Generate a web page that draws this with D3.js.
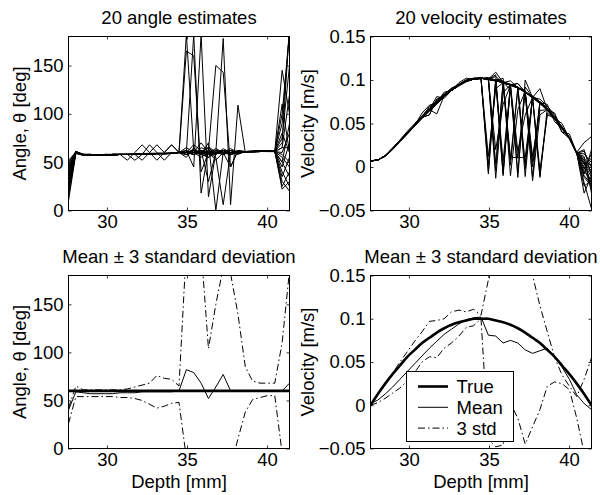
<!DOCTYPE html>
<html>
<head>
<meta charset="utf-8">
<script src="https://cdn.jsdelivr.net/npm/d3@7"></script>
<style>
body { margin: 0; background: #fff; }
svg text { font-family: "Liberation Sans", Arial, Helvetica, sans-serif; font-size: 18.5px; fill: #000; }
</style>
</head>
<body>
<div id="chart"></div>
<script>
// depth samples [mm]
var depth = [27.60, 28.06, 28.52, 28.98, 29.44, 29.90, 30.36, 30.82, 31.28, 31.74, 32.20,
             32.66, 33.12, 33.58, 34.04, 34.50, 34.96, 35.42, 35.88, 36.34, 36.80, 37.26,
             37.72, 38.18, 38.64, 39.10, 39.56, 40.02, 40.48, 40.94, 41.40];

// 20 angle estimates [deg]
var angleEst = [
  [30,61, 58,57,57,58,57,58,58, 58,59,58,59,59,59,60, 182,62,58,55,60,62,60,59, 61,61,62,61,61, 145,100],
  [45,60, 58,58,57,57,58,58,58, 58,58,59,59,59,60,60, 165,160,40,60,58,62,60,61, 61,61,61,62,61, 110,60],
  [20,59, 57,57,57,58,58,58,58, 58,58,58,59,58,59,60, 60,182,18,62,60,58,62,60, 61,61,62,62,61, 90,185],
  [50,61, 58,57,57,57,57,58,58, 58,59,59,59,59,59,60, 62,45,182,14,60,62,58,60, 61,60,61,61,61, 75,150],
  [35,60, 58,58,57,57,58,58,58, 58,58,58,59,59,59,60, 58,62,60,55,60,178,6,109, 60,61,61,62,61, 65,120],
  [42,60, 57,57,57,57,58,58,58, 59,58,58,59,59,59,60, 60,58,65,62,150,143,45,62, 61,61,61,62,61, 55,45],
  [15,60, 58,57,57,58,57,58,58, 58,58,59,59,59,59,60, 55,65,58,70,0,60,58,60, 61,61,61,62,61, 45,70],
  [28,60, 58,57,57,57,58,58,52, 60,68,60,52,60,68,60, 62,58,60,65,58,62,60,59, 61,62,61,62,61, 35,55],
  [48,61, 58,58,57,57,58,58,58, 52,58,68,60,52,60,60, 60,68,62,55,62,60,64,60, 61,61,62,61,61, 25,40],
  [38,60, 58,57,57,58,58,58,58, 58,52,60,68,60,68,60, 58,60,70,60,52,60,62,60, 61,61,61,62,62, 22,30],
  [52,60, 58,57,57,57,58,58,58, 58,58,59,59,59,59,60, 60,62,58,60,60,62,60,60, 61,61,61,62,61, 70,190],
  [25,61, 58,58,57,57,57,58,58, 58,59,58,59,59,59,60, 60,58,62,60,64,60,58,61, 61,61,62,62,61, 60,80],
  [40,60, 58,57,57,57,58,58,58, 58,58,58,59,59,59,60, 62,60,55,60,62,60,45,62, 60,61,61,62,61, 50,35],
  [10,59, 58,57,57,57,58,58,58, 58,58,59,59,59,59,60, 60,60,62,58,60,60,62,60, 61,61,61,62,61, 40,25],
  [33,60, 58,57,57,58,58,58,58, 58,58,59,59,59,59,60, 58,62,60,60,55,6,60,58, 61,61,61,62,61, 80,60],
  [46,60, 58,58,57,57,58,58,58, 58,58,58,59,59,59,60, 65,60,58,62,60,58,60,62, 61,61,62,61,61, 65,65],
  [22,60, 58,57,57,57,58,58,58, 58,59,59,58,59,59,60, 60,62,58,66,60,60,58,60, 61,61,62,62,61, 58,50],
  [36,60, 58,57,57,58,57,58,58, 58,58,58,59,59,59,60, 60,58,62,30,60,62,60,60, 61,61,61,62,61, 30,20],
  [44,61, 58,57,57,57,58,58,58, 58,58,59,59,59,59,60, 60,62,60,58,62,60,60,60, 61,61,62,62,61, 100,185],
  [18,60, 58,58,57,57,58,58,58, 58,58,58,59,59,59,60, 58,60,62,60,58,64,60,60, 61,61,61,62,61, 50,90]
];

// 20 velocity estimates [m/s]
var velEst = [
  [0.007,0.008,0.013,0.022,0.031,0.040,0.048,0.058,0.066,0.075,0.083,0.089,0.095,0.100,0.102,0.103, -0.008,0.100,0.098,0.095,0.092,0.004,0.081,0.075, 0.067,0.057,0.046,0.034,0.016, 0.005,-0.020],
  [0.007,0.008,0.012,0.020,0.029,0.038,0.047,0.056,0.064,0.072,0.081,0.088,0.094,0.098,0.101,0.101, 0.002,0.101,0.099,-0.010,0.066,0.087,0.081,0.073, 0.065,0.055,0.044,0.032,0.016, 0.010,0.000],
  [0.007,0.008,0.013,0.021,0.030,0.039,0.049,0.058,0.067,0.076,0.083,0.090,0.095,0.100,0.102,0.102, 0.102,-0.013,0.085,0.095,0.091,0.088,0.006,0.075, 0.068,0.057,0.046,0.034,0.015, -0.005,-0.015],
  [0.007,0.008,0.013,0.021,0.030,0.040,0.048,0.057,0.060,0.078,0.082,0.089,0.094,0.099,0.101,0.102, 0.100,0.099,-0.008,0.095,0.092,0.086,0.079,-0.012, 0.068,0.058,0.046,0.034,0.017, 0.028,0.035],
  [0.007,0.008,0.013,0.021,0.030,0.039,0.048,0.057,0.066,0.074,0.082,0.088,0.094,0.099,0.101,0.102, 0.101,0.020,0.072,0.094,0.096,0.086,0.080,0.074, 0.066,0.056,0.045,0.033,0.016, -0.030,-0.010],
  [0.007,0.008,0.013,0.020,0.029,0.038,0.047,0.056,0.065,0.073,0.081,0.088,0.093,0.098,0.101,0.102, 0.103,0.100,0.097,0.011,0.011,0.011,0.079,0.073, 0.066,0.055,0.044,0.033,0.015, 0.000,-0.025],
  [0.007,0.008,0.013,0.022,0.031,0.041,0.050,0.059,0.068,0.076,0.084,0.090,0.095,0.100,0.102,0.102, -0.005,0.099,0.098,0.095,0.092,-0.002,0.082,0.075, 0.067,0.056,0.045,0.033,0.016, 0.015,0.005],
  [0.007,0.008,0.013,0.021,0.030,0.039,0.048,0.057,0.066,0.061,0.082,0.088,0.094,0.099,0.101,0.102, 0.101,0.106,-0.010,0.094,0.091,0.086,0.080,0.074, 0.066,0.056,0.045,0.033,0.016, -0.010,-0.020],
  [0.007,0.008,0.013,0.021,0.030,0.039,0.048,0.057,0.070,0.074,0.086,0.088,0.094,0.099,0.101,0.102, 0.101,0.004,0.097,0.094,0.091,0.086,0.012,0.065, 0.066,0.056,0.045,0.033,0.016, 0.008,-0.005],
  [0.007,0.008,0.013,0.021,0.030,0.039,0.048,0.057,0.066,0.074,0.082,0.088,0.094,0.099,0.101,0.102, 0.101,0.109,0.097,0.094,-0.012,0.100,0.080,0.074, 0.066,0.056,0.045,0.033,0.016, -0.018,-0.048],
  [0.007,0.008,0.013,0.021,0.030,0.039,0.048,0.062,0.071,0.074,0.082,0.088,0.094,0.099,0.101,0.102, 0.101,0.099,0.097,0.008,0.091,0.086,0.080,-0.010, 0.062,0.056,0.045,0.033,0.016, 0.020,-0.010],
  [0.007,0.008,0.013,0.021,0.030,0.039,0.048,0.057,0.066,0.081,0.079,0.088,0.094,0.099,0.101,0.102, 0.012,0.090,0.097,0.094,0.091,0.086,0.000,0.074, 0.066,0.056,0.045,0.033,0.016, 0.003,0.010],
  [0.007,0.008,0.013,0.021,0.030,0.039,0.048,0.057,0.060,0.078,0.082,0.088,0.094,0.099,0.101,0.102, 0.101,0.104,0.097,0.094,0.018,0.060,0.080,0.090, 0.066,0.056,0.045,0.033,0.016, -0.008,0.020],
  [0.007,0.008,0.013,0.021,0.030,0.039,0.048,0.057,0.066,0.074,0.082,0.088,0.094,0.099,0.101,0.102, 0.101,-0.004,0.097,0.099,0.091,0.086,0.080,0.074, 0.072,0.052,0.045,0.033,0.016, 0.012,-0.030],
  [0.007,0.008,0.013,0.021,0.030,0.039,0.048,0.057,0.066,0.074,0.082,0.088,0.094,0.099,0.101,0.102, 0.101,0.099,-0.005,0.094,0.091,0.086,-0.012,0.074, 0.066,0.062,0.040,0.033,0.016, -0.022,-0.015],
  [0.007,0.008,0.013,0.021,0.030,0.039,0.048,0.057,0.066,0.074,0.082,0.088,0.094,0.099,0.101,0.102, 0.101,0.099,0.102,0.002,0.091,0.086,0.080,-0.004, 0.060,0.056,0.050,0.033,0.016, 0.006,-0.008],
  [0.007,0.008,0.013,0.021,0.030,0.039,0.048,0.057,0.066,0.074,0.082,0.088,0.094,0.099,0.101,0.102, 0.101,0.099,0.097,0.094,0.091,-0.011,0.080,0.078, 0.070,0.060,0.045,0.033,0.016, -0.002,0.015],
  [0.007,0.008,0.013,0.021,0.030,0.039,0.048,0.057,0.066,0.074,0.082,0.088,0.094,0.099,0.101,0.102, 0.101,0.099,0.007,0.094,0.096,0.086,0.080,0.074, 0.066,0.056,0.040,0.038,0.016, 0.018,0.000],
  [0.007,0.008,0.013,0.021,0.030,0.039,0.048,0.057,0.066,0.074,0.082,0.088,0.097,0.102,0.101,0.102, 0.101,0.099,0.097,0.094,-0.007,0.092,0.080,0.074, 0.066,0.056,0.045,0.033,0.016, -0.012,-0.022],
  [0.007,0.008,0.013,0.021,0.030,0.039,0.048,0.057,0.066,0.074,0.082,0.091,0.094,0.099,0.101,0.102, 0.101,0.099,0.097,0.089,0.010,0.086,-0.016,0.060, 0.066,0.056,0.045,0.033,0.016, 0.004,-0.012]
];

// mean +/- 3 std, angle [deg]
var angleTrue  = [60,60,60,60,60,60,60,60,60,60,60,60,60,60,60,60,60,60,60,60,60,60,60,60,60,60,60,60,60,60,60];
var angleMean  = [40,59,58,57,57,57,57,58,58,58,59,59,59,59,59,60,82,79,68,52,64,77,60,60,60,60,60,60,60,60,68];
var angleUpper = [42,65,61,61,61,61,61,61,62,64,66,68,76,73,72,65,209,260,208,104,150,188,182,140,85,70,68,68,68,110,185];
var angleLower = [26,54,54,54,54,54,54,53,53,52,50,46,42,44,47,48,-10,-60,-80,-70,-40,-30,-20,10,38,51,53,55,55,-5,-60];

// mean +/- 3 std, velocity [m/s]
var velTrue  = [0.000,0.013,0.025,0.036,0.046,0.056,0.064,0.072,0.078,0.084,0.089,0.093,0.096,0.098,0.100,0.100,
                0.100,0.098,0.096,0.093,0.089,0.084,0.078,0.072,0.064,0.056,0.046,0.036,0.025,0.013,0.000];
var velMean  = [0.002,0.006,0.013,0.021,0.030,0.039,0.048,0.057,0.066,0.074,0.082,0.088,0.094,0.099,0.101,0.102,
                0.081,0.080,0.072,0.075,0.072,0.064,0.060,0.063,0.066,0.056,0.044,0.030,0.012,0.002,-0.005];
var velUpper = [0.000,0.012,0.025,0.037,0.050,0.062,0.074,0.085,0.097,0.098,0.100,0.108,0.110,0.108,0.111,0.104,
                0.145,0.220,0.250,0.260,0.240,0.200,0.150,0.115,0.085,0.055,0.035,0.022,0.010,0.030,0.055];
var velLower = [0.000,0.003,0.008,0.014,0.020,0.028,0.038,0.050,0.056,0.055,0.066,0.072,0.080,0.090,0.092,0.100,
                -0.040,-0.048,-0.046,0.002,-0.015,-0.045,-0.025,-0.005,0.022,0.027,0.025,0.018,-0.015,-0.055,-0.090];

var xTicks = [30, 35, 40];
var angleTicks = [0, 50, 100, 150];
var angleTickLabels = ["0", "50", "100", "150"];
var velTicks = [-0.05, 0, 0.05, 0.1, 0.15];
var velTickLabels = ["\u22120.05", "0", "0.05", "0.1", "0.15"];
var legendLabels = ["True", "Mean", "3 std"];

var W = 600, H = 495;
var svg = d3.select("#chart").append("svg")
  .attr("width", W).attr("height", H);

var DASHDOT = "7,3,1.5,3";

function panel(id, box, yDomain, yTicks, yLabels, title, ylabel, ylabelX, xlabel) {
  var x = d3.scaleLinear().domain([27.6, 41.4]).range([box.l, box.r]);
  var y = d3.scaleLinear().domain(yDomain).range([box.b, box.t]);

  svg.append("clipPath").attr("id", id)
    .append("rect").attr("x", box.l).attr("y", box.t)
    .attr("width", box.r - box.l).attr("height", box.b - box.t);

  var plot = svg.append("g").attr("clip-path", "url(#" + id + ")");

  // axes, ticks pointing inwards on all four sides
  var ax = svg.append("g").attr("color", "#000");
  ax.append("g").attr("transform", "translate(0," + box.b + ")")
    .call(d3.axisBottom(x).tickValues(xTicks).tickSize(-3).tickPadding(4));
  ax.append("g").attr("transform", "translate(0," + box.t + ")")
    .call(d3.axisTop(x).tickValues(xTicks).tickSize(-3).tickFormat(""));
  ax.append("g").attr("transform", "translate(" + box.l + ",0)")
    .call(d3.axisLeft(y).tickValues(yTicks).tickSize(-3).tickPadding(5)
      .tickFormat(function (d, i) { return yLabels[i]; }));
  ax.append("g").attr("transform", "translate(" + box.r + ",0)")
    .call(d3.axisRight(y).tickValues(yTicks).tickSize(-3).tickFormat(""));
  ax.selectAll(".domain").remove();
  ax.selectAll(".tick line").attr("stroke-width", 0.8);

  ax.append("rect")
    .attr("x", box.l).attr("y", box.t)
    .attr("width", box.r - box.l).attr("height", box.b - box.t)
    .attr("fill", "none").attr("stroke", "#000").attr("stroke-width", 1);

  svg.append("text").attr("x", (box.l + box.r) / 2).attr("y", box.t - 13)
    .attr("text-anchor", "middle").text(title);

  svg.append("text")
    .attr("transform", "translate(" + ylabelX + "," + ((box.t + box.b) / 2) + ") rotate(-90)")
    .attr("text-anchor", "middle").text(ylabel);

  if (xlabel) {
    svg.append("text").attr("x", (box.l + box.r) / 2).attr("y", box.b + 39)
      .attr("text-anchor", "middle").text(xlabel);
  }

  return { x: x, y: y, plot: plot };
}

function addLine(p, values, width, dash, smooth) {
  var line = d3.line()
    .x(function (d, i) { return p.x(depth[i]); })
    .y(function (d) { return p.y(d); });
  if (smooth) line.curve(d3.curveNatural);
  p.plot.append("path")
    .attr("d", line(values))
    .attr("fill", "none")
    .attr("stroke", "#000")
    .attr("stroke-width", width)
    .attr("stroke-linejoin", "round")
    .attr("stroke-dasharray", dash || null);
}

var boxTL = { l: 68.5, r: 289.5, t: 36.5, b: 210.5 };
var boxTR = { l: 370.5, r: 591.5, t: 36.5, b: 210.5 };
var boxBL = { l: 68.5, r: 289.5, t: 275.5, b: 448.5 };
var boxBR = { l: 370.5, r: 591.5, t: 275.5, b: 448.5 };

// top-left: 20 angle estimates
var p1 = panel("c1", boxTL, [0, 180], angleTicks, angleTickLabels,
  "20 angle estimates", "Angle, \u03b8 [deg]", 26, null);
angleEst.forEach(function (s) { addLine(p1, s, 1); });

// top-right: 20 velocity estimates
var p2 = panel("c2", boxTR, [-0.05, 0.15], velTicks, velTickLabels,
  "20 velocity estimates", "Velocity [m/s]", 314, null);
velEst.forEach(function (s) { addLine(p2, s, 1); });

// bottom-left: angle mean +/- 3 std
var p3 = panel("c3", boxBL, [0, 180], angleTicks, angleTickLabels,
  "Mean \u00b1 3 standard deviation", "Angle, \u03b8 [deg]", 26, "Depth [mm]");
addLine(p3, angleTrue, 2.6);
addLine(p3, angleMean, 1);
addLine(p3, angleUpper, 1, DASHDOT);
addLine(p3, angleLower, 1, DASHDOT);

// bottom-right: velocity mean +/- 3 std
var p4 = panel("c4", boxBR, [-0.05, 0.15], velTicks, velTickLabels,
  "Mean \u00b1 3 standard deviation", "Velocity [m/s]", 314, "Depth [mm]");
addLine(p4, velTrue, 2.6, null, true);
addLine(p4, velMean, 1);
addLine(p4, velUpper, 1, DASHDOT);
addLine(p4, velLower, 1, DASHDOT);

// legend
var lg = svg.append("g");
lg.append("rect").attr("x", 406.5).attr("y", 371.5).attr("width", 107).attr("height", 70)
  .attr("fill", "#fff").attr("stroke", "#000").attr("stroke-width", 1);
var lgStyles = [{ w: 2.6, dash: null }, { w: 1, dash: null }, { w: 1, dash: DASHDOT }];
legendLabels.forEach(function (lab, i) {
  var yy = 386.5 + i * 20.8;
  lg.append("line").attr("x1", 418).attr("x2", 448).attr("y1", yy).attr("y2", yy)
    .attr("stroke", "#000").attr("stroke-width", lgStyles[i].w)
    .attr("stroke-dasharray", lgStyles[i].dash);
  lg.append("text").attr("x", 456.5).attr("y", yy).attr("dy", "0.35em").text(lab);
});
</script>
</body>
</html>
